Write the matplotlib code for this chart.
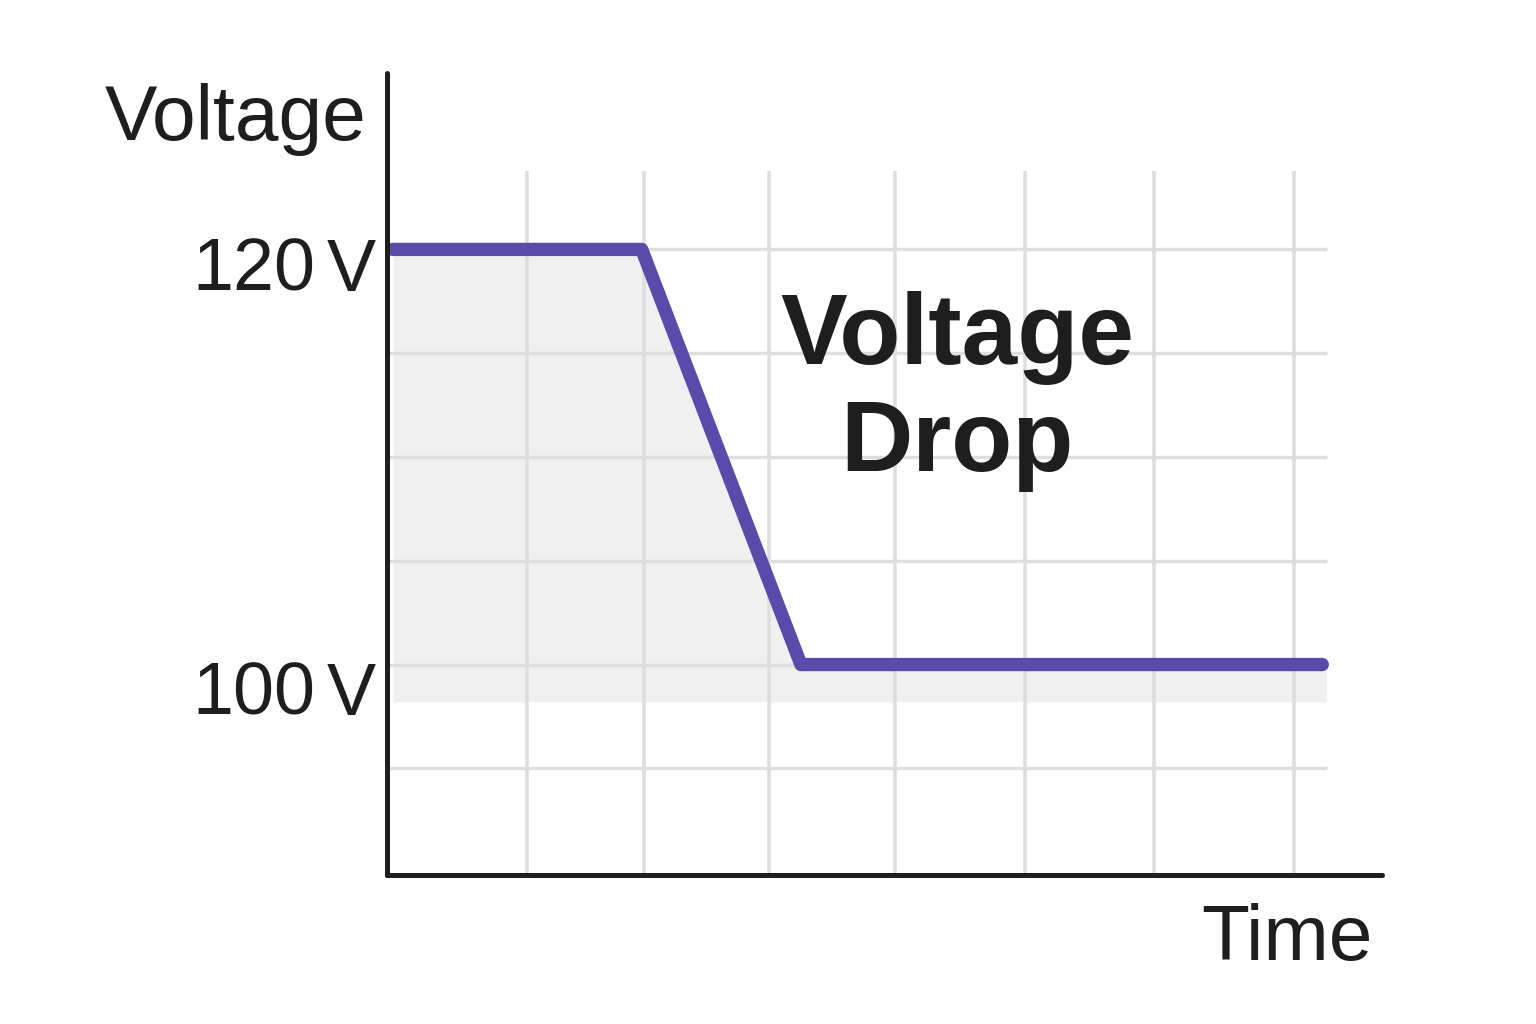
import matplotlib
matplotlib.use("Agg")
import matplotlib.pyplot as plt
import matplotlib.transforms as mtransforms

plt.rcParams["font.family"] = ["Liberation Sans", "DejaVu Sans"]

# voltage trace (time in arbitrary units, volts)
time = [0.06, 2.56, 4.16, 9.40]
voltage = [120, 120, 100, 100]
fill_time = [0.06, 2.56, 4.16, 9.44]
fill_floor = 98.2

grid_time = [1.41, 2.58, 3.84, 5.11, 6.41, 7.71, 9.12]
grid_volt = [95, 100, 105, 110, 115, 120]
grid_top = 123.8
grid_right = 9.45

tick_values = [120, 100]
tick_numbers = ["120", "100"]
tick_unit = "V"

LINE = "#5a4aa9"
INK = "#1e1e1e"
GRID = "#dedede"
FILL = "#f0f0f0"

fig = plt.figure(figsize=(15.36, 10.24), dpi=100)
ax = fig.add_axes([387 / 1536, 1 - 875 / 1024, 995 / 1536, 802 / 1024])
ax.set_xlim(0, 10)
ax.set_ylim(89.86, 128.5)

ax.fill_between(fill_time, voltage, fill_floor, color=FILL, lw=0, zorder=1)
ax.vlines(grid_time, ax.get_ylim()[0], grid_top, color=GRID, lw=2.6, zorder=1.2)
ax.hlines(grid_volt, 0, grid_right, color=GRID, lw=2.4, zorder=1.2)
ax.plot(time, voltage, color=LINE, lw=9.6, solid_capstyle="round",
        solid_joinstyle="round", zorder=2)

for side in ("top", "right"):
    ax.spines[side].set_visible(False)
for side in ("left", "bottom"):
    ax.spines[side].set_linewidth(3.6)
    ax.spines[side].set_color(INK)
    ax.spines[side].set_capstyle("round")
ax.set_xticks([])
ax.set_yticks([])

# tick labels sit a bit below their level, as in the source
trans = mtransforms.blended_transform_factory(ax.transAxes, ax.transData)
offsets = [-2.0, -2.43]
for v, num, off in zip(tick_values, tick_numbers, offsets):
    ax.text(-0.011, v + off, tick_unit, transform=trans, ha="right",
            va="baseline", fontsize=53, color=INK)
    ax.text(-0.072, v + off, num, transform=trans, ha="right",
            va="baseline", fontsize=53, color=INK)

fig.text(366 / 1536, 1 - 140 / 1024, "Voltage", ha="right", va="baseline",
         fontsize=56.5, color=INK)
fig.text(1373 / 1536, 1 - 960 / 1024, "Time", ha="right", va="baseline",
         fontsize=56.5, color=INK)
ax.text(5.73, 114.48, "Voltage", ha="center", va="baseline", fontsize=72,
        fontweight="bold", color=INK)
ax.text(5.73, 109.33, "Drop", ha="center", va="baseline", fontsize=72,
        fontweight="bold", color=INK)

fig.savefig("out.png", dpi=100)
